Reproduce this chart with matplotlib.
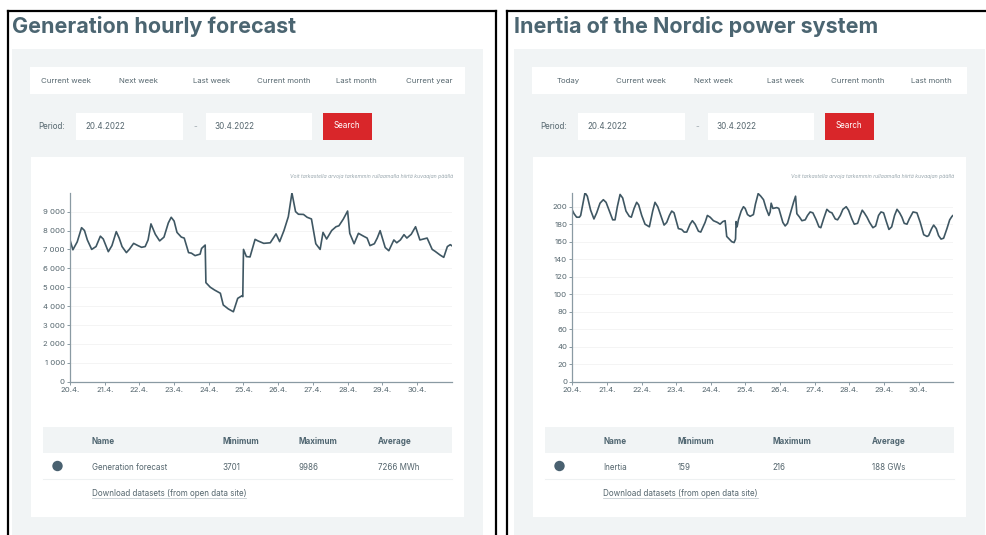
#!/usr/bin/env python3
"""
Screenshot remake: Fingrid generation forecast and Nordic inertia, 20.4.-30.4.2022.
"""
import matplotlib
matplotlib.use("Agg")
import matplotlib.pyplot as plt
from matplotlib.patches import Rectangle, Circle
from matplotlib.ticker import FuncFormatter

plt.rcParams["font.family"] = ["Inter", "DejaVu Sans"]

W, H = 987, 535

# --- data (hours from 20.4. 00:00) ---
day_labels = ["20.4.", "21.4.", "22.4.", "23.4.", "24.4.", "25.4.",
              "26.4.", "27.4.", "28.4.", "29.4.", "30.4."]

gen_hours = [0, 2, 5, 8, 10, 12, 15, 18, 21, 23, 26.5, 29, 32, 34, 36, 39,
             41, 44, 47, 49.5, 52, 54, 56, 59, 62, 65, 68, 70, 72, 74, 77,
             79, 82, 84, 86.5, 90, 91, 93.5, 94, 97, 100, 104, 106, 109.5,
             113, 116, 119, 119.5, 120, 122, 124.5, 126, 128, 130, 134,
             138.5, 142.5, 145, 148, 151, 153.5, 156, 158, 161.5, 164, 167,
             170, 173, 175, 177.5, 181, 184, 186, 189, 192, 193.5, 196.5,
             199.5, 203, 205.5, 207.5, 210.5, 212.5, 214.5, 218, 220.5, 224,
             226, 228.5, 231, 233, 236, 239, 242, 244.5, 247, 250.5, 252.5,
             256, 258.5, 261, 263, 264]
gen_values = [7500, 6980, 7400, 8150, 8000, 7500, 7000, 7150, 7700, 7550,
              6880, 7200, 7940, 7600, 7150, 6830, 7000, 7320, 7200, 7110,
              7150, 7500, 8350, 7800, 7450, 7650, 8400, 8700, 8500, 7900,
              7650, 7600, 6830, 6800, 6670, 6750, 7050, 7230, 5240, 5000,
              4850, 4680, 4060, 3850, 3701, 4410, 4550, 4500, 7000, 6620,
              6600, 7000, 7530, 7450, 7320, 7350, 7820, 7410, 8000, 8730,
              9986, 9000, 8860, 8850, 8700, 8610, 7300, 7000, 7900, 7550,
              8000, 8200, 8250, 8600, 9030, 7850, 7300, 7850, 7700, 7600,
              7200, 7300, 7600, 7990, 7100, 6930, 7500, 7350, 7500, 7780,
              7600, 7800, 8200, 7500, 7550, 7600, 7000, 6900, 6700, 6580,
              7150, 7250, 7200]

inertia_hours = [0, 1.2, 3.0, 4.9, 5.8, 8.8, 10.4, 12.7, 15.0, 16.9, 19.2,
                 21.5, 23.4, 25.7, 28.0, 29.6, 31.2, 33.1, 34.9, 37.2, 39.5,
                 40.9, 42.8, 44.6, 46.0, 48.1, 50.4, 53.4, 55.7, 57.3, 59.2,
                 61.3, 63.6, 65.4, 67.3, 68.9, 70.5, 73.5, 75.8, 77.5, 79.3,
                 81.6, 83.2, 85.1, 87.4, 89.0, 92.0, 93.6, 95.5, 97.8, 100.6,
                 102.4, 104.3, 105.9, 107.0, 108.7, 110.5, 112.1, 113.1,
                 113.5, 114.2, 115.1, 117.0, 118.6, 119.8, 121.4, 123.2,
                 125.5, 126.9, 128.8, 130.6, 132.5, 134.3, 136.2, 137.1,
                 137.8, 139.0, 141.7, 143.1, 144.5, 145.9, 147.5, 149.1,
                 151.0, 153.3, 154.7, 155.6, 157.5, 159.1, 161.4, 163.0,
                 164.8, 166.7, 169.0, 170.9, 172.2, 174.1, 176.4, 178.3,
                 179.9, 182.2, 183.8, 185.7, 187.5, 189.8, 191.4, 193.7,
                 195.4, 197.7, 199.5, 200.9, 202.3, 204.2, 206.0, 208.3,
                 210.2, 212.2, 213.9, 215.7, 217.6, 219.4, 221.3, 223.3,
                 225.0, 226.8, 228.4, 230.0, 231.9, 233.5, 236.1, 238.8,
                 241.1, 243.5, 245.8, 246.9, 249.0, 250.4, 252.2, 253.8,
                 255.5, 257.3, 259.6, 261.5, 263.1, 263.8]
inertia_values = [196, 192, 188, 188, 190, 216, 212, 196, 186, 193, 204,
                  208, 205, 195, 185, 185, 200, 214, 210, 195, 189, 188,
                  198, 205, 202, 190, 180, 177, 195, 205, 200, 190, 179,
                  182, 190, 195, 193, 175, 174, 171, 171, 180, 184, 180,
                  172, 171, 182, 190, 188, 184, 182, 180, 183, 184, 166,
                  163, 160, 159, 163, 183, 177, 185, 195, 200, 198, 191,
                  189, 191, 203, 215, 212, 208, 198, 190, 194, 204, 198,
                  199, 198, 190, 182, 178, 181, 192, 205, 212, 192, 188,
                  184, 185, 190, 194, 193, 185, 177, 176, 186, 197, 194,
                  193, 186, 185, 190, 197, 200, 196, 186, 180, 181, 190,
                  196, 193, 188, 182, 176, 178, 190, 194, 193, 183, 174,
                  177, 190, 197, 193, 188, 181, 180, 186, 194, 193, 182,
                  168, 166, 167, 175, 179, 175, 167, 163, 164, 175, 185,
                  189, 190]

gen_table = ["Generation forecast", "3701", "9986", "7266 MWh"]
inertia_table = ["Inertia", "159", "216", "188 GWs"]

# --- colours ---
GREY_BG = "#f1f4f5"
TITLE_C = "#4b6571"
TEXT_C = "#55666e"
LINE_C = "#3f5763"
SPINE_C = "#8a9aa3"
RED = "#d9262a"

fig = plt.figure(figsize=(W / 100, H / 100), dpi=100)
bg = fig.add_axes([0, 0, 1, 1])
bg.set_xlim(0, W)
bg.set_ylim(H, 0)
bg.axis("off")


def box(x0, y0, x1, y1, color, z=1):
    bg.add_patch(Rectangle((x0, y0), x1 - x0, y1 - y0, facecolor=color,
                           edgecolor="none", zorder=z))


def px_axes(x0, y0, x1, y1):
    return fig.add_axes([x0 / W, (H - y1) / H, (x1 - x0) / W, (y1 - y0) / H])


def label(x, y, s, **kw):
    # y is the text baseline in pixels
    kw.setdefault("fontsize", 5.8)
    kw.setdefault("color", TEXT_C)
    bg.text(x, y, s, va="baseline", zorder=4, **kw)


def panel(ox, border_left, title, tabs, tab_x, ax_x0, ax_x1, hours, values,
          ymax, yticks, fmt, table_row, col_x, border_right):
    # black frame
    bg.plot([border_left, border_right], [11, 11], color="black", lw=1.6, zorder=5)
    bg.plot([border_left, border_left], [11, H], color="black", lw=1.6, zorder=5)
    if border_right < W:
        bg.plot([border_right, border_right], [11, H], color="black", lw=1.6, zorder=5)

    label(ox, 33, title, fontsize=15.5, fontweight="bold", color=TITLE_C)

    box(ox, 49, ox + 471, H, GREY_BG)
    # tab bar
    box(ox + 18, 67, ox + 453, 93.5, "white", 2)
    for t, x in zip(tabs, tab_x):
        label(x, 83, t, fontsize=5.6, ha="center")
    # period row
    label(ox + 26, 129, "Period:")
    box(ox + 64, 112.5, ox + 170.5, 139.5, "white", 2)
    box(ox + 193.5, 112.5, ox + 300, 139.5, "white", 2)
    label(ox + 73, 129, "20.4.2022")
    label(ox + 181, 129, "-", color="#a0aab0")
    label(ox + 202, 129, "30.4.2022")
    box(ox + 311, 112.5, ox + 359.5, 139.5, RED, 2)
    label(ox + 335, 128.5, "Search", color="white", ha="center")

    # chart card
    box(ox + 19, 157, ox + 452, 517, "white", 2)
    label(ax_x1 + 1, 178,
          "Voit tarkastella arvoja tarkemmin rullaamalla hiirtä kuvaajan päällä",
          fontsize=3.7, style="italic", color="#98a6ad", ha="right")

    # table
    tx0, tx1 = ox + 31, ox + 440
    box(tx0, 427, tx1, 453, GREY_BG, 3)
    for name, x in zip(["Name", "Minimum", "Maximum", "Average"], col_x):
        label(x, 443.5, name, fontweight="bold", color="#4f6570")
    bg.add_patch(Circle((ox + 45.5, 466), 5.2, facecolor="#4a6170",
                        edgecolor="none", zorder=4))
    for val, x in zip(table_row, col_x):
        label(x, 469.5, val)
    bg.plot([tx0, tx1], [478.5, 478.5], color="#eef1f2", lw=0.8, zorder=4)
    t = bg.text(col_x[0], 495.5, "Download datasets (from open data site)",
                fontsize=5.8, color=TEXT_C, va="baseline", zorder=4)
    fig.canvas.draw()
    bb = t.get_window_extent()
    bg.plot([bb.x0, bb.x1], [497.5, 497.5], color="#c5cdd2", lw=0.6, zorder=4)

    # chart
    ax = px_axes(ax_x0, 192.7, ax_x1, 381.7)
    ax.plot(hours, values, color=LINE_C, lw=1.2, solid_joinstyle="round")
    ax.set_xlim(0, 264)
    ax.set_ylim(0, ymax)
    ax.set_xticks([i * 24 for i in range(len(day_labels))])
    ax.set_xticklabels(day_labels)
    ax.set_yticks(yticks)
    ax.yaxis.set_major_formatter(FuncFormatter(fmt))
    ax.set_facecolor("none")
    for s in ("top", "right"):
        ax.spines[s].set_visible(False)
    for s in ("left", "bottom"):
        ax.spines[s].set_color(SPINE_C)
        ax.spines[s].set_linewidth(0.9)
    ax.tick_params(axis="both", length=2.5, width=0.7, color=SPINE_C,
                   labelsize=5.6, labelcolor=TEXT_C, pad=1.2)
    ax.grid(axis="y", color="#f2f2f2", lw=0.6)
    ax.set_axisbelow(True)
    return ax


panel(12, 7.5, "Generation hourly forecast",
      ["Current week", "Next week", "Last week", "Current month",
       "Last month", "Current year"],
      [66.3, 138.8, 211.3, 283.8, 356.3, 428.8],
      70, 451.7, gen_hours, gen_values, 10000, range(0, 10000, 1000),
      lambda v, p: f"{int(v):,}".replace(",", " "),
      gen_table, [91.7, 222.7, 298.3, 377.7], 496)

panel(514, 506.5, "Inertia of the Nordic power system",
      ["Today", "Current week", "Next week", "Last week", "Current month",
       "Last month"],
      [568.7, 640.8, 713.5, 785.8, 858.2, 931.0],
      572.3, 953.3, inertia_hours, inertia_values, 216, range(0, 201, 20),
      lambda v, p: f"{int(v)}",
      inertia_table, [603.3, 677.7, 772.7, 871.7], W + 10)

fig.savefig("out.png", dpi=100)
